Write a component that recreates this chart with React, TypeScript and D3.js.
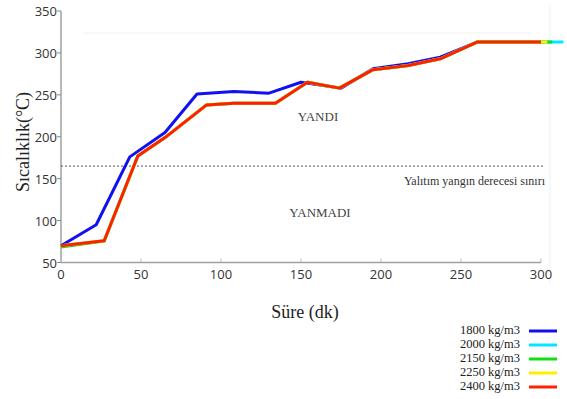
import React from "react";
import * as d3 from "d3";

// time (dk) and temperature (°C)
const time1800 = [0, 22, 43, 65, 85, 108, 130, 150, 175, 195, 217, 237, 260, 300];
const temp1800 = [70, 95, 176, 205, 251, 254, 252, 265, 258, 281, 287, 295, 313, 313];

const time2000 = [0, 27, 48, 65, 91, 108, 134, 154, 174, 195, 217, 237, 260, 314];
const temp2000 = [70, 76, 177, 199, 238, 240, 240, 265, 258, 280, 285, 293, 313, 313];

const time2150 = [0, 27, 48, 65, 91, 108, 134, 154, 174, 195, 217, 237, 260, 307];
const temp2150 = [68.5, 75.5, 177, 199, 238, 240, 240, 265, 258, 280, 285, 293, 313, 313];

const time2250 = [0, 27, 48, 65, 91, 108, 134, 154, 174, 195, 217, 237, 260, 304];
const temp2250 = [70, 76, 177, 199, 238, 240, 240, 265, 258, 280, 285, 293, 313, 313];

const time2400 = [0, 27, 48, 65, 91, 108, 134, 154, 174, 195, 217, 237, 260, 300];
const temp2400 = [70, 76, 177, 199, 238, 240, 240, 265, 258, 280, 285, 293, 313, 313];

const seriesNames = ["1800 kg/m3", "2000 kg/m3", "2150 kg/m3", "2250 kg/m3", "2400 kg/m3"];
const seriesColors = ["#1010f0", "#00e8ff", "#10e010", "#ffee00", "#ff2000"];
const xTicks = [0, 50, 100, 150, 200, 250, 300];
const yTicks = [50, 100, 150, 200, 250, 300, 350];
const limitTemp = 165;

const width = 567;
const height = 399;

const App = () => {
  const x = d3.scaleLinear().domain([0, 300]).range([61, 541]);
  const y = d3.scaleLinear().domain([50, 350]).range([262.5, 11]);

  const times = [time1800, time2000, time2150, time2250, time2400];
  const temps = [temp1800, temp2000, temp2150, temp2250, temp2400];

  const line = d3
    .line<[number, number]>()
    .x(d => x(d[0]))
    .y(d => y(d[1]));

  const sans = "Open Sans, DejaVu Sans, sans-serif";
  const serif = "Liberation Serif, Times New Roman, serif";

  return (
    <svg
      width={width}
      height={height}
      style={{ position: "absolute", left: 0, top: 0, background: "#fff" }}
    >
      {/* faint frame remains */}
      <line x1={83} x2={533} y1={33} y2={33} stroke="#f2f2f2" />
      <line x1={550} x2={550} y1={5} y2={285} stroke="#f0f0f0" />

      {/* axes */}
      <line x1={x(0)} x2={x(0)} y1={y(350)} y2={y(50)} stroke="#a0a0a0" strokeWidth={1.5} />
      <line x1={x(0)} x2={x(300)} y1={y(50)} y2={y(50)} stroke="#a0a0a0" strokeWidth={1.5} />

      {yTicks.map(t => (
        <g key={"y" + t}>
          <line x1={x(0) - 4} x2={x(0)} y1={y(t)} y2={y(t)} stroke="#888" />
          <text
            x={x(0) - 4}
            y={y(t)}
            textAnchor="end"
            dominantBaseline="central"
            style={{ fontFamily: sans }}
            fontSize={13}
            fill="#333"
          >
            {t}
          </text>
        </g>
      ))}
      {xTicks.map(t => (
        <g key={"x" + t}>
          <line x1={x(t)} x2={x(t)} y1={y(50)} y2={y(50) - 4} stroke="#bbb" />
          <text
            x={x(t)}
            y={y(50) + 11}
            textAnchor="middle"
            dominantBaseline="central"
            style={{ fontFamily: sans }}
            fontSize={13}
            fill="#333"
          >
            {t}
          </text>
        </g>
      ))}

      {/* insulation fire-rating limit */}
      <line
        x1={x(0)}
        x2={x(300) + 2}
        y1={y(limitTemp)}
        y2={y(limitTemp)}
        stroke="#555"
        strokeWidth={1}
        strokeDasharray="2,2"
      />

      {times.map((ts, i) => (
        <path
          key={seriesNames[i]}
          d={line(ts.map((t, j) => [t, temps[i][j]] as [number, number])) || ""}
          fill="none"
          stroke={seriesColors[i]}
          strokeWidth={3}
          strokeLinejoin="round"
        />
      ))}

      <text x={318} y={116} textAnchor="middle" dominantBaseline="central" style={{ fontFamily: serif }} fontSize={13} fill="#444">
        YANDI
      </text>
      <text x={320} y={212} textAnchor="middle" dominantBaseline="central" style={{ fontFamily: serif }} fontSize={13} fill="#444">
        YANMADI
      </text>
      <text x={545} y={181} textAnchor="end" dominantBaseline="central" style={{ fontFamily: serif }} fontSize={12} fill="#333">
        Yalıtım yangın derecesi sınırı
      </text>

      <text
        transform={`translate(23,142) rotate(-90)`}
        textAnchor="middle"
        dominantBaseline="central"
        style={{ fontFamily: serif }}
        fontSize={18}
        fill="#222"
      >
        Sıcalıklık(°C)
      </text>
      <text x={305} y={312} textAnchor="middle" dominantBaseline="central" style={{ fontFamily: serif }} fontSize={18} fill="#222">
        Süre (dk)
      </text>

      {/* legend */}
      {seriesNames.map((name, i) => {
        const ly = 330 + i * 14;
        return (
          <g key={"lg" + name}>
            <text x={520} y={ly} textAnchor="end" dominantBaseline="central" style={{ fontFamily: serif }} fontSize={12.5} fill="#222">
              {name}
            </text>
            <line x1={529} x2={557} y1={ly + 1} y2={ly + 1} stroke={seriesColors[i]} strokeWidth={3} />
          </g>
        );
      })}
    </svg>
  );
};

export default App;
